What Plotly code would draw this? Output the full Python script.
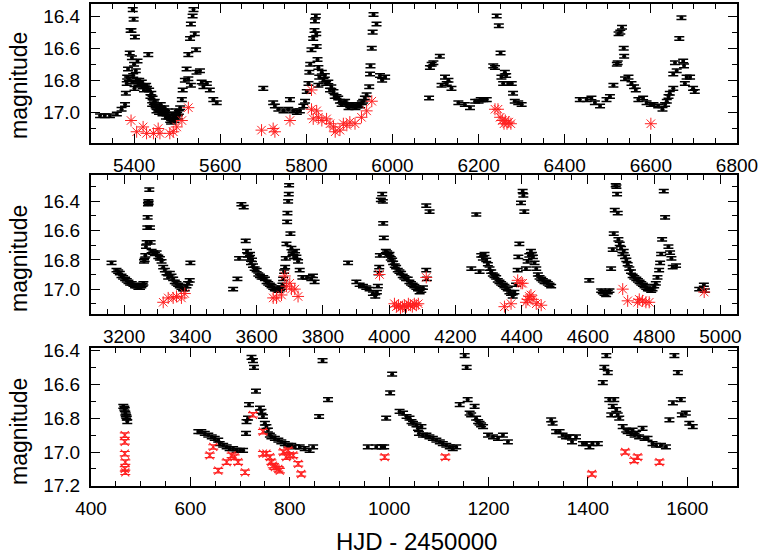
import plotly.graph_objects as go

# ---------------- Panel 1 (HJD 5300-6800) ----------------
p1_black_x = [5321, 5332, 5344, 5360, 5371, 5379, 5381, 5383, 5384, 5386, 5388, 5390, 5392, 5394, 5397, 5399, 5402,
              5395, 5400, 5404, 5406, 5408, 5396, 5401, 5398,
              5410, 5415, 5420, 5425, 5430, 5433, 5435, 5440, 5443, 5446, 5450, 5453, 5456, 5460, 5464, 5468, 5472,
              5476, 5480, 5484, 5488, 5492, 5496, 5500, 5504,
              5412, 5418, 5423, 5428, 5438, 5442, 5448, 5452, 5458, 5462, 5466, 5470, 5474, 5478, 5482, 5486, 5490,
              5494, 5498, 5502,
              5507, 5511, 5513, 5518, 5522, 5526, 5530, 5532, 5536, 5538, 5541, 5544, 5526, 5532, 5545, 5553, 5557,
              5561, 5569, 5576, 5584, 5592,
              5700, 5723, 5727, 5735, 5747, 5758, 5762, 5770, 5778, 5785, 5793, 5797, 5801, 5805, 5807, 5809, 5812,
              5816, 5819, 5820, 5822, 5823, 5824, 5826, 5828, 5830, 5828, 5836, 5840, 5843, 5851, 5855, 5863, 5870,
              5878, 5886, 5894, 5902, 5909, 5917, 5925, 5932, 5940, 5946, 5948, 5949, 5952, 5954, 5956, 5963,
              5846, 5858, 5866, 5874, 5882, 5890, 5898, 5906, 5914, 5921, 5929, 5936,
              5971, 5976, 5983,
              6085, 6087, 6091, 6095, 6110, 6114, 6122, 6126, 6130, 6137, 6153, 6168, 6180, 6192, 6200, 6205, 6211,
              6219, 6234, 6238, 6242, 6247, 6251, 6253, 6261, 6264, 6257, 6269, 6277, 6280, 6284, 6292, 6300,
              6435, 6451, 6462, 6470, 6482, 6497, 6505, 6513, 6521, 6523, 6525, 6529, 6533, 6537, 6538, 6540, 6548,
              6555, 6561, 6565, 6571, 6582, 6590, 6600, 6606, 6617, 6627, 6633, 6637, 6641, 6644, 6652, 6652, 6656,
              6660, 6666, 6671, 6675, 6677, 6679, 6683, 6691, 6698, 6702]
p1_black_y = [17.02, 17.02, 17.02, 17.01, 16.98, 16.95, 16.88, 16.82, 16.78, 16.73, 16.79, 16.63, 16.49, 16.49, 16.36,
              16.42, 16.53,
              16.66, 16.70, 16.74, 16.80, 16.68, 16.81, 16.85, 16.77,
              16.82, 16.83, 16.84, 16.84, 16.85, 16.64, 16.86, 16.88, 16.91, 16.94, 16.96, 16.97, 16.98, 16.97, 16.98,
              16.99, 17.00, 17.01, 17.03, 17.05, 17.04, 17.03, 17.02, 17.01, 17.00,
              16.80, 16.81, 16.86, 16.83, 16.90, 16.95, 16.93, 16.99, 17.00, 16.95, 17.01, 16.97, 17.03, 16.99, 17.02,
              17.06, 17.01, 17.05, 16.99, 17.03,
              16.97, 16.92, 16.86, 16.80, 16.73, 16.64, 16.54, 16.45, 16.40, 16.36, 16.51, 16.61, 16.79, 16.83, 16.75,
              16.74, 16.81, 16.84, 16.82, 16.86, 16.92, 16.94,
              16.85, 16.94, 16.96, 16.98, 16.99, 16.98, 16.92, 16.99, 17.00, 16.99, 16.96, 16.93, 16.87, 16.82, 16.75,
              16.70, 16.61, 16.54, 16.49, 16.43, 16.40, 16.51, 16.59, 16.67, 16.72, 16.78, 16.83, 16.75, 16.80, 16.77,
              16.81, 16.86, 16.87, 16.90, 16.93, 16.94, 16.95, 16.96, 16.96, 16.96, 16.96, 16.93, 16.89, 16.84, 16.76,
              16.71, 16.60, 16.50, 16.39, 16.45,
              16.82, 16.84, 16.90, 16.91, 16.95, 16.93, 16.97, 16.95, 16.97, 16.95, 16.94, 16.91,
              16.77, 16.80, 16.78,
              16.91, 16.72, 16.70, 16.69, 16.65, 16.83, 16.78, 16.82, 16.80, 16.85, 16.94, 16.95, 16.97, 16.93, 16.93,
              16.92, 16.92, 16.92, 16.71, 16.72, 16.40, 16.46, 16.63, 16.78, 16.75, 16.77, 16.82, 16.82, 16.82, 16.88,
              16.93, 16.94, 16.95,
              16.92, 16.92, 16.91, 16.94, 16.96, 16.92, 16.90, 16.83, 16.70, 16.69, 16.51, 16.50, 16.47, 16.60, 16.65,
              16.79, 16.78, 16.82, 16.84, 16.86, 16.92, 16.91, 16.94, 16.95, 16.95, 16.96, 16.98, 16.95, 16.93, 16.90,
              16.88, 16.85, 16.76, 16.69, 16.74, 16.54, 16.41, 16.68, 16.71, 16.82, 16.78, 16.78, 16.85, 16.87]
p1_red_x = [5393, 5406, 5421, 5429, 5445, 5456, 5460, 5483, 5491, 5499, 5511, 5526,
            5696, 5723, 5727, 5762, 5812, 5812, 5824, 5816, 5828, 5836, 5847, 5855, 5863, 5867, 5878, 5886, 5894,
            5901, 5913, 5928, 5940, 5952,
            6238, 6245, 6250, 6255, 6259, 6262, 6266, 6270, 6275, 6600]
p1_red_y = [17.05, 17.12, 17.09, 17.13, 17.13, 17.10, 17.13, 17.13, 17.12, 17.09, 17.05, 16.97,
            17.11, 17.10, 17.12, 17.05, 16.86, 16.98, 16.99, 17.04, 17.03, 17.05, 17.04, 17.07, 17.09, 17.12, 17.11,
            17.07, 17.08, 17.06, 17.07, 17.03, 16.99, 16.93,
            16.98, 16.98, 17.03, 17.05, 17.07, 17.05, 17.07, 17.06, 17.07, 17.07]

# ---------------- Panel 2 (HJD 3100-5050) ----------------
p2_black_x = [3162, 3177, 3182, 3187, 3192, 3197, 3203, 3208, 3213, 3218, 3223, 3228, 3233, 3238, 3243, 3248, 3252,
              3256, 3258, 3260, 3262, 3264, 3266, 3268, 3270, 3271, 3272, 3273, 3274, 3276, 3278, 3280, 3283, 3288,
              3293, 3298, 3303, 3308, 3313, 3318, 3323, 3328, 3333, 3338, 3343, 3348, 3353, 3358, 3363, 3368, 3373,
              3378, 3383, 3388, 3393, 3398, 3400,
              3529, 3542, 3547, 3554, 3561, 3567, 3571, 3574, 3577, 3580, 3583, 3586, 3589, 3594, 3600, 3605, 3610,
              3615, 3620, 3625, 3630, 3635, 3640, 3645, 3650, 3655, 3660, 3665, 3670, 3675, 3678, 3680, 3683, 3686,
              3688, 3690, 3692, 3693, 3695, 3697, 3698, 3702, 3705, 3708, 3710, 3713, 3716, 3720, 3725, 3730, 3738,
              3752, 3765, 3775, 3770,
              3876, 3901, 3911, 3921, 3931, 3941, 3951, 3958,
              3963, 3966, 3968, 3970, 3972, 3975, 3979, 3981, 3982, 3984,
              3990, 3994, 3998, 4001, 4005, 4009, 4012, 4017, 4021, 4026, 4031, 4036, 4041, 4046, 4051, 4056, 4061,
              4066, 4071, 4076, 4082, 4087, 4092, 4097, 4102, 4112, 4122, 4112, 4114,
              4263, 4248, 4273,
              4278, 4283, 4288, 4293, 4298, 4303, 4308, 4313, 4318, 4323, 4328, 4333, 4338, 4343, 4348, 4353, 4358,
              4363, 4368, 4373, 4378, 4383, 4388, 4390, 4393, 4398, 4403, 4405, 4408, 4413, 4418, 4423, 4428, 4431,
              4434, 4439, 4444, 4449, 4454, 4459, 4464, 4469, 4474, 4479, 4484, 4489,
              4604,
              4640, 4645, 4650, 4655, 4660, 4665, 4670, 4675, 4678, 4681, 4684, 4686, 4688, 4690, 4692, 4696, 4700,
              4704, 4708, 4712, 4716, 4720, 4725, 4730, 4735, 4740, 4746, 4751, 4756, 4761, 4766, 4771, 4776, 4781,
              4786, 4791, 4795, 4800, 4805, 4810, 4815, 4818, 4821, 4824, 4829, 4833, 4843, 4848, 4852, 4856, 4866,
              4936, 4950, 4953]
p2_black_y = [16.82, 16.87, 16.88, 16.89, 16.91, 16.92, 16.93, 16.94, 16.95, 16.96, 16.96, 16.97, 16.98, 16.98, 16.99,
              16.99, 16.98, 16.97, 16.96, 16.81, 16.80, 16.77, 16.71, 16.68, 16.58, 16.51, 16.42, 16.40, 16.41, 16.32,
              16.58, 16.68, 16.74, 16.75, 16.76, 16.75, 16.78, 16.79, 16.81, 16.85, 16.87, 16.89, 16.92, 16.89, 16.91,
              16.93, 16.95, 16.96, 16.97, 16.98, 16.99, 17.00, 17.00, 16.98, 16.96, 16.94, 16.82,
              17.00, 16.93, 16.79, 16.42, 16.44, 16.67, 16.74, 16.77, 16.79, 16.76, 16.82, 16.80, 16.84, 16.86, 16.87,
              16.90, 16.91, 16.92, 16.92, 16.93, 16.95, 16.96, 16.97, 16.98, 16.99, 17.00, 17.00, 17.01, 17.00, 16.99,
              16.97, 16.93, 16.88, 16.85, 16.79, 16.69, 16.54, 16.48, 16.40, 16.35, 16.29, 16.62, 16.72, 16.76, 16.75,
              16.78, 16.74, 16.78, 16.81, 16.87, 16.92, 16.92, 16.93, 16.95, 16.91,
              16.82, 16.95, 16.97, 16.98, 16.99, 17.00, 17.03, 17.05,
              17.02, 16.98, 16.89, 16.85, 16.77, 16.39, 16.35, 16.40, 16.55, 16.65,
              16.74, 16.75, 16.77, 16.76, 16.79, 16.80, 16.82, 16.84, 16.85, 16.87, 16.88, 16.89, 16.91, 16.92, 16.93,
              16.93, 16.95, 16.96, 16.97, 16.98, 16.99, 17.00, 17.02, 17.01, 16.99, 16.43, 16.47, 16.87, 16.93,
              16.49, 16.86, 16.88,
              16.77, 16.79, 16.76, 16.80, 16.83, 16.86, 16.88, 16.90, 16.91, 16.92, 16.94, 16.95, 16.96, 16.97, 16.98,
              16.99, 17.00, 17.02, 17.03, 17.05, 17.02, 16.97, 16.87, 16.78, 16.69, 16.41, 16.33, 16.36, 16.47, 16.86,
              16.81, 16.77, 16.74, 16.76, 16.78, 16.82, 16.86, 16.90, 16.92, 16.93, 16.94, 16.95, 16.95, 16.96, 16.97,
              16.98,
              16.94,
              17.01, 17.02, 17.03, 17.04, 17.02, 17.01, 16.86, 16.73, 16.62, 16.46, 16.29, 16.30, 16.35, 16.48, 16.66,
              16.69, 16.72, 16.76, 16.74, 16.78, 16.80, 16.83, 16.86, 16.88, 16.91, 16.92, 16.93, 16.94, 16.95, 16.96,
              16.97, 16.98, 16.99, 17.00, 17.00, 17.01, 17.00, 16.98, 16.96, 16.92, 16.87, 16.82, 16.76, 16.66, 16.33,
              16.51, 16.71, 16.75, 16.79, 16.85, 16.84,
              17.00, 16.97, 17.01]
p2_red_x = [3318, 3333, 3348, 3358, 3373, 3383,
            3650, 3660, 3675, 3685, 3690, 3700, 3705, 3715, 3725,
            3971, 4016, 4022, 4028, 4034, 4040, 4046, 4052, 4058, 4064, 4070, 4076, 4082, 4088, 4112,
            4348, 4368, 4388, 4398, 4403, 4413, 4418, 4423, 4428, 4434, 4444, 4459,
            4705, 4720, 4750, 4755, 4765, 4775, 4785, 4951]
p2_red_y = [17.09, 17.06, 17.06, 17.05, 17.06, 17.03,
            17.06, 17.06, 17.04, 16.91, 16.98, 16.96, 17.00, 17.00, 17.05,
            16.90, 17.10, 17.12, 17.11, 17.13, 17.12, 17.11, 17.12, 17.10, 17.11, 17.12, 17.10, 17.11, 17.10, 16.92,
            17.12, 17.10, 16.94, 16.96, 16.96, 17.09, 17.07, 17.05, 17.04, 17.07, 17.10, 17.11,
            17.00, 17.08, 17.09, 17.07, 17.08, 17.09, 17.09, 17.02]

# ---------------- Panel 3 (HJD 400-1700) ----------------
p3_black_x = [465, 467, 468, 469, 470, 471, 472, 473,
              616, 622, 629, 636, 643, 649, 656, 659, 666, 673, 679, 686, 693, 700, 706,
              712, 713, 716, 718, 723, 726, 728, 732, 740, 743, 746, 750, 753, 756, 760,
              763, 770, 777, 783, 790, 797, 803, 810, 820, 830, 840, 847,
              859, 866, 877, 957, 974,
              985, 990, 994, 1002, 1006, 1021, 1028, 1035, 1041, 1045, 1048, 1055, 1058, 1060, 1065, 1068, 1075, 1081,
              1088, 1095, 1102, 1108, 1115, 1122, 1128, 1135, 1142, 1152, 1156, 1158, 1162, 1165, 1172, 1175, 1179,
              1182, 1185, 1189, 1199, 1209, 1219, 1229, 1239,
              1326, 1329, 1336, 1343, 1349, 1356, 1363, 1368, 1376, 1390, 1396, 1403, 1409, 1420,
              1430, 1433, 1437, 1440, 1443, 1447, 1450, 1453, 1457, 1460, 1463, 1470, 1477, 1480, 1487, 1490, 1494,
              1497, 1503, 1510, 1514, 1520, 1530, 1537, 1547, 1557,
              1564, 1571, 1574, 1581, 1587, 1589, 1597, 1604, 1611]
p3_black_y = [16.73, 16.74, 16.75, 16.77, 16.78, 16.79, 16.80, 16.82,
              16.88, 16.88, 16.89, 16.90, 16.91, 16.92, 16.93, 16.95, 16.96, 16.97, 16.98, 16.98, 16.99, 16.99, 16.99,
              16.89, 16.82, 16.80, 16.72, 16.44, 16.46, 16.50, 16.64, 16.74, 16.76, 16.79, 16.83, 16.85, 16.87, 16.90,
              16.91, 16.92, 16.93, 16.94, 16.95, 16.96, 16.96, 16.97, 16.97, 16.98, 16.99, 16.97,
              16.79, 16.46, 16.69, 16.97, 16.97,
              16.97, 16.97, 16.80, 16.65, 16.54, 16.76, 16.77, 16.79, 16.80, 16.82, 16.83, 16.84, 16.86, 16.89, 16.85,
              16.90, 16.90, 16.91, 16.92, 16.93, 16.94, 16.95, 16.96, 16.97, 16.98, 16.97, 16.72, 16.43, 16.50, 16.69,
              16.77, 16.78, 16.73, 16.80, 16.82, 16.83, 16.84, 16.85, 16.90, 16.91, 16.92, 16.90, 16.94,
              16.81, 16.83, 16.88, 16.88, 16.90, 16.91, 16.91, 16.94, 16.91, 16.95, 16.95, 16.97, 16.95, 16.95,
              16.59, 16.50, 16.43, 16.53, 16.69, 16.78, 16.73, 16.69, 16.75, 16.78, 16.80, 16.85, 16.87, 16.88, 16.89,
              16.87, 16.90, 16.89, 16.91, 16.86, 16.92, 16.92, 16.95, 16.96, 16.96, 16.97,
              16.81, 16.71, 16.43, 16.53, 16.69, 16.78, 16.77, 16.83, 16.85]
p3_red_x = [468, 468, 468, 469, 468, 469,
            639, 646, 656, 673, 683, 689, 696, 710, 726, 746, 746, 753, 760, 763, 766, 770, 777, 780, 787, 793, 797,
            800, 807, 817, 823,
            991, 1113, 1408, 1475, 1493, 1500, 1544]
p3_red_y = [16.90, 16.94, 17.01, 17.06, 17.10, 17.12,
            17.02, 16.97, 17.11, 17.06, 17.02, 17.03, 17.06, 17.12, 16.78, 16.88, 17.01, 17.01, 17.03, 17.06, 17.08,
            17.09, 17.10, 17.11, 17.00, 17.03, 16.99, 17.02, 17.02, 17.07, 17.13,
            17.03, 17.03, 17.13, 17.00, 17.05, 17.03, 17.06]

x_ranges = [[5300, 6800], [3100, 5050], [400, 1700]]
y_ranges = [[17.19, 16.325], [17.17, 16.22], [17.201, 16.385]]

W, H = 763, 557
FONT = "Liberation Sans, Arial, Helvetica, sans-serif"
X0, X1 = 91, 737
panel_px = [(4, 143), (175, 314), (348, 486)]

fig = go.Figure()

black_err = dict(type="constant", value=0.011, width=5, thickness=1.5, color="black")
red_err = dict(type="constant", value=0.013, width=5, thickness=1.2, color="#ff2020")

panels = [
    (p1_black_x, p1_black_y, p1_red_x, p1_red_y, "asterisk"),
    (p2_black_x, p2_black_y, p2_red_x, p2_red_y, "asterisk"),
    (p3_black_x, p3_black_y, p3_red_x, p3_red_y, "x"),
]

for i, (bx, by, rx, ry, rkind) in enumerate(panels):
    xa = "x" if i == 0 else f"x{i+1}"
    ya = "y" if i == 0 else f"y{i+1}"
    fig.add_trace(go.Scatter(
        x=bx, y=by, mode="markers", xaxis=xa, yaxis=ya, showlegend=False,
        marker=dict(symbol="circle", size=4, color="black"),
        error_y=black_err,
    ))
    if rkind == "asterisk":
        fig.add_trace(go.Scatter(
            x=rx, y=ry, mode="markers", xaxis=xa, yaxis=ya, showlegend=False,
            marker=dict(symbol="asterisk-open", size=10, color="#ff2020",
                        line=dict(color="#ff2020", width=1)),
        ))
    else:
        fig.add_trace(go.Scatter(
            x=rx, y=ry, mode="markers", xaxis=xa, yaxis=ya, showlegend=False,
            marker=dict(symbol="x-thin-open", size=8, color="#ff2020",
                        line=dict(color="#ff2020", width=1.1)),
            error_y=red_err,
        ))

axis_common = dict(
    showline=True, linewidth=2, linecolor="black", mirror="allticks",
    ticks="inside", ticklen=9, tickwidth=1.3, tickcolor="black",
    showgrid=False, zeroline=False, automargin=False,
    tickfont=dict(family=FONT, size=19, color="black"),
)

layout = dict(
    width=W, height=H, margin=dict(l=0, r=0, t=0, b=0, autoexpand=False),
    paper_bgcolor="white", plot_bgcolor="white",
    font=dict(family=FONT, color="black"),
)

for i in range(3):
    top, bot = panel_px[i]
    xkey = "xaxis" if i == 0 else f"xaxis{i+1}"
    ykey = "yaxis" if i == 0 else f"yaxis{i+1}"
    xa = "x" if i == 0 else f"x{i+1}"
    ya = "y" if i == 0 else f"y{i+1}"
    layout[xkey] = dict(
        axis_common, domain=[X0 / W, X1 / W], range=x_ranges[i], anchor=ya,
        dtick=200, tick0=0, ticklabelstandoff=4,
        minor=dict(ticks="inside", ticklen=5, dtick=50, tickcolor="black", tickwidth=1.2, showgrid=False),
    )
    layout[ykey] = dict(
        axis_common, domain=[1 - bot / H, 1 - top / H], range=y_ranges[i], anchor=xa,
        dtick=0.2, tick0=0, tickformat=".1f", ticklabelstandoff=5,
        minor=dict(ticks="inside", ticklen=5, dtick=0.1, tickcolor="black", tickwidth=1.2, showgrid=False),
    )

fig.update_layout(**layout)

label_centers = [86, 259, 432]
for yc in label_centers:
    fig.add_annotation(
        text="magnitude", xref="paper", yref="paper", x=19 / W, y=1 - yc / H,
        showarrow=False, textangle=-90, xanchor="center", yanchor="middle",
        font=dict(family=FONT, size=23, color="black"),
    )
fig.add_annotation(
    text="HJD - 2450000", xref="paper", yref="paper", x=417 / W, y=1 - 541 / H,
    showarrow=False, xanchor="center", yanchor="middle",
    font=dict(family=FONT, size=24, color="black"),
)

fig.write_html(
    "out.html",
    config={"responsive": False, "displayModeBar": False},
    post_script="document.body.style.margin='0px';document.body.style.overflow='hidden';",
)
